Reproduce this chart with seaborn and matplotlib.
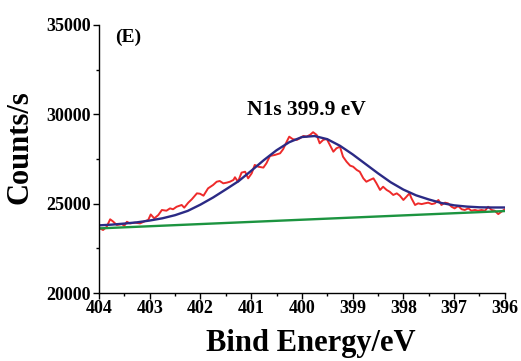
import numpy as np
import pandas as pd
import matplotlib
matplotlib.use("Agg")
import matplotlib.pyplot as plt
import seaborn as sns
from matplotlib.ticker import MultipleLocator

# Raw N1s spectrum (red)
raw_energy = [
    404.00, 403.92, 403.85, 403.78, 403.72, 403.65, 403.55, 403.50, 403.45, 403.39,
    403.29, 403.19, 403.09, 403.03, 402.98, 402.91, 402.83, 402.76, 402.67, 402.60,
    402.54, 402.47, 402.37, 402.32, 402.24, 402.17, 402.07, 402.01, 401.94, 401.85,
    401.75, 401.68, 401.62, 401.55, 401.48, 401.42, 401.35, 401.32, 401.26, 401.19,
    401.12, 401.06, 400.99, 400.93, 400.86, 400.76, 400.70, 400.63, 400.53, 400.43,
    400.37, 400.30, 400.25, 400.18, 400.10, 400.04, 399.97, 399.91, 399.84, 399.78,
    399.71, 399.65, 399.58, 399.51, 399.45, 399.38, 399.32, 399.25, 399.19, 399.12,
    399.05, 398.99, 398.92, 398.86, 398.79, 398.73, 398.66, 398.59, 398.53, 398.46,
    398.40, 398.33, 398.27, 398.20, 398.13, 398.07, 398.00, 397.94, 397.88, 397.84,
    397.77, 397.71, 397.64, 397.58, 397.51, 397.44, 397.38, 397.31, 397.25, 397.18,
    397.12, 397.05, 396.99, 396.92, 396.85, 396.79, 396.72, 396.66, 396.59, 396.53,
    396.46, 396.39, 396.33, 396.26, 396.20, 396.13, 396.07, 396.00,
]
raw_counts = [
    23650, 23530, 23700, 24130, 24000, 23810, 23860, 23770, 23990, 23900,
    23940, 23900, 24030, 24090, 24400, 24180, 24370, 24650, 24610, 24740,
    24690, 24830, 24930, 24780, 25060, 25250, 25580, 25560, 25450, 25860,
    26050, 26230, 26270, 26140, 26180, 26230, 26330, 26480, 26230, 26740,
    26790, 26420, 26700, 27170, 27070, 27020, 27260, 27670, 27730, 27820,
    28050, 28470, 28750, 28610, 28570, 28660, 28790, 28750, 28850, 29000,
    28850, 28380, 28570, 28620, 28290, 27910, 28100, 28190, 27630, 27350,
    27130, 27070, 26890, 26790, 26420, 26230, 26330, 26420, 26140, 25770,
    25950, 25770, 25670, 25490, 25580, 25450, 25210, 25390, 25580, 25300,
    24930, 25020, 24980, 25020, 25060, 24980, 25020, 25210, 24930, 25060,
    25020, 24830, 24740, 24870, 24690, 24650, 24740, 24610, 24650, 24610,
    24650, 24610, 24830, 24650, 24610, 24420, 24550, 24690,
]

# Fitted envelope (blue), every 0.25 eV
fit_energy = [
    404.00, 403.75, 403.50, 403.25, 403.00, 402.75, 402.50, 402.25, 402.00, 401.75,
    401.50, 401.25, 401.00, 400.75, 400.50, 400.25, 400.00, 399.75, 399.50, 399.25,
    399.00, 398.75, 398.50, 398.25, 398.00, 397.75, 397.50, 397.25, 397.00, 396.75,
    396.50, 396.25, 396.00,
]
fit_counts = [
    23790, 23830, 23890, 23960, 24060, 24185, 24360, 24600, 24950, 25350,
    25800, 26260, 26840, 27440, 27990, 28440, 28730, 28785, 28610, 28240,
    27760, 27230, 26700, 26200, 25790, 25470, 25240, 25040, 24910, 24840,
    24800, 24790, 24790,
]

# Background line (green)
bg_energy = [404.0, 396.0]
bg_counts = [23620, 24590]

raw = pd.DataFrame({"E": raw_energy, "C": raw_counts})
fit = pd.DataFrame({"E": fit_energy, "C": fit_counts})
bg = pd.DataFrame({"E": bg_energy, "C": bg_counts})

sns.set_style("ticks")
plt.rcParams["font.family"] = ["Liberation Serif", "DejaVu Serif"]
plt.rcParams["font.weight"] = "bold"
plt.rcParams["text.color"] = "black"
plt.rcParams["axes.labelcolor"] = "black"

fig = plt.figure(figsize=(5.21, 3.61), dpi=100)
ax = fig.add_axes([0.190, 0.188, 0.779, 0.743])

sns.lineplot(data=raw, x="E", y="C", color="#ee2a2a", linewidth=1.4,
             sort=False, estimator=None, ax=ax)
sns.lineplot(data=bg, x="E", y="C", color="#1c9440", linewidth=1.7,
             sort=False, estimator=None, ax=ax)
sns.lineplot(data=fit, x="E", y="C", color="#2b2a85", linewidth=1.7,
             sort=False, estimator=None, ax=ax)

ax.set_xlim(404, 396)
ax.set_ylim(20000, 35000)
ax.xaxis.set_major_locator(MultipleLocator(1))
ax.xaxis.set_minor_locator(MultipleLocator(0.5))
ax.yaxis.set_major_locator(MultipleLocator(5000))
ax.yaxis.set_minor_locator(MultipleLocator(2500))

ax.tick_params(axis="both", which="major", direction="out", length=4,
               width=1.0, labelsize=13, colors="black")
ax.tick_params(axis="both", which="minor", direction="out", length=2.5,
               width=1.0, colors="black")
ax.tick_params(axis="x", pad=1)
ax.tick_params(axis="y", pad=2)
for lab in ax.get_xticklabels() + ax.get_yticklabels():
    lab.set_fontweight("bold")

sns.despine(ax=ax)
for s in ["left", "bottom"]:
    ax.spines[s].set_linewidth(1.0)
    ax.spines[s].set_color("black")

ax.set_xlabel("Bind Energy/eV", fontsize=22, fontweight="bold", color="black")
ax.set_ylabel("Counts/s", fontsize=22, fontweight="bold", color="black")
ax.xaxis.set_label_coords(0.522, -0.135)
ax.yaxis.set_label_coords(-0.160, 0.545)

ax.text(403.68, 34280, "(E)", fontsize=14, fontweight="bold",
        ha="left", va="center", color="black")
ax.text(399.92, 30250, "N1s 399.9 eV", fontsize=15.5, fontweight="bold",
        ha="center", va="center", color="black")

fig.savefig("out.png", dpi=100)
